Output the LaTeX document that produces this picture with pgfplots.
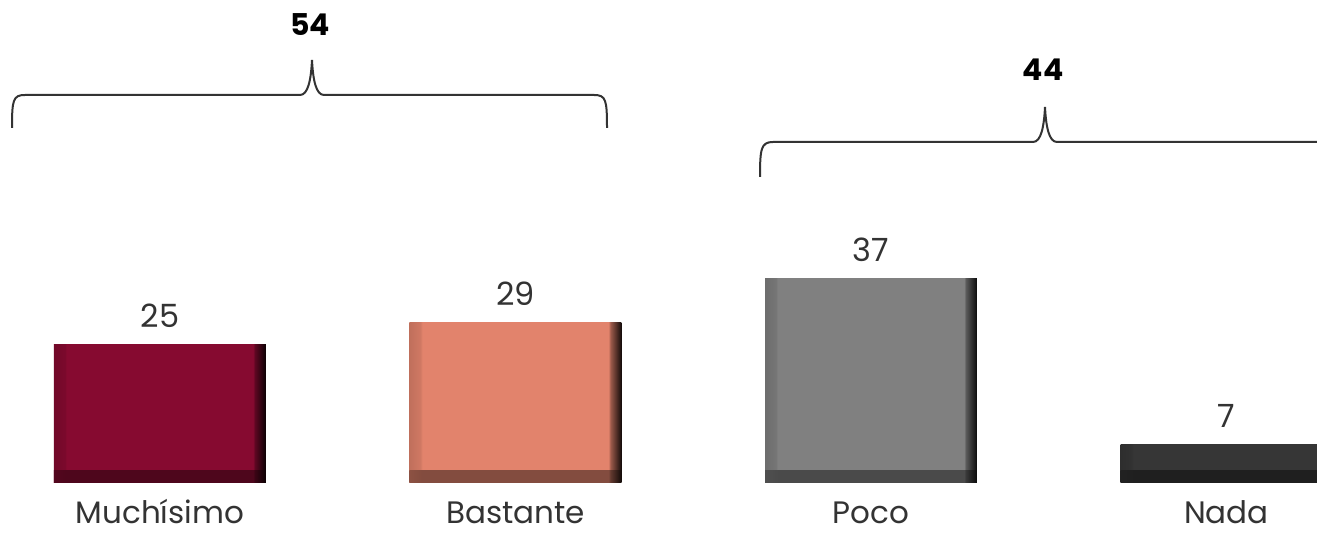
\documentclass[border=0pt]{standalone}
\usepackage{pgfplots}
\pgfplotsset{compat=1.18}
\usepackage{fontspec}
\setmainfont{Poppins}
\definecolor{txt}{HTML}{333333}
\definecolor{cMuch}{HTML}{860A30}
\definecolor{cBast}{HTML}{E2836C}
\definecolor{cPoco}{HTML}{808080}
\definecolor{cNada}{HTML}{363636}
% bevel look: darker left rim, dark right rim (face), dark bottom rim (band)
\newcommand\bevelshades[2]{%
  \pgfdeclarehorizontalshading{#1face}{100bp}{%
    color(0bp)=(#2!85!black); color(25bp)=(#2!85!black); color(27.6bp)=(#2!92!black);
    color(28bp)=(#2); color(72bp)=(#2); color(72.3bp)=(#2!72!black);
    color(75bp)=(#2!8!black); color(100bp)=(#2!8!black)}%
  \pgfdeclarehorizontalshading{#1band}{100bp}{%
    color(0bp)=(#2!62!black); color(25bp)=(#2!62!black); color(28bp)=(#2!58!black);
    color(72bp)=(#2!58!black); color(72.3bp)=(#2!45!black);
    color(75bp)=(#2!8!black); color(100bp)=(#2!8!black)}%
}
\bevelshades{much}{cMuch}
\bevelshades{bast}{cBast}
\bevelshades{poco}{cPoco}
\bevelshades{nada}{cNada}
\begin{document}
\begin{tikzpicture}
\begin{axis}[
  at={(0,25pt)}, anchor=south west,
  scale only axis, width=658.5pt, height=241.5pt,
  xmin=-0.45, xmax=3.2546, ymin=0, ymax=87.5,
  axis x line*=bottom, axis y line=none,
  x axis line style={draw=none},
  clip=false,
  /pgf/number format/assume math mode=true,
  ybar, bar width=0.5963, bar shift=0pt,
  xtick={0,1,2,3},
  xticklabels={Muchísimo,Bastante,Poco,Nada},
  ytick=\empty,
  major tick length=0pt,
  xtick style={draw=none},
  xticklabel style={anchor=base, yshift=-20.5pt, inner sep=0pt, text=txt, font=\fontsize{15.5}{17}\selectfont},
  every node near coord/.append style={anchor=base, yshift=8.5pt, inner sep=0pt, text=txt, font=\fontsize{16}{18}\selectfont},
  main/.style={draw=none, shading=#1face, nodes near coords},
  rim/.style={draw=none, shading=#1band},
]
\addplot[main=much] coordinates {(0,25)};
\addplot[main=bast] coordinates {(1,29)};
\addplot[main=poco] coordinates {(2,37)};
\addplot[main=nada] coordinates {(3,7)};
% bottom rim of each bevelled bar
\addplot[rim=much] coordinates {(0,2.2)};
\addplot[rim=bast] coordinates {(1,2.2)};
\addplot[rim=poco] coordinates {(2,2.2)};
\addplot[rim=nada] coordinates {(3,2.2)};
\end{axis}
% grouping braces with totals
\begin{scope}[x=0.5pt, y=-0.5pt, yshift=266.5pt, line width=1pt, draw=txt]
  \draw (12,128) .. controls (12,100) and (13,95) .. (25,95) -- (300,95)
        .. controls (308,95) and (311,80) .. (312,60)
        .. controls (313,80) and (316,95) .. (324,95) -- (594,95)
        .. controls (606,95) and (607,100) .. (607,128);
  \draw (760,177) .. controls (760,149) and (761,142) .. (773,142) -- (1033,142)
        .. controls (1041,142) and (1044,127) .. (1045,107)
        .. controls (1046,127) and (1049,142) .. (1057,142) -- (1317,142)
        .. controls (1329,142) and (1330,149) .. (1330,177);
  \node[text=black, font=\fontsize{15}{18}\selectfont\bfseries] at (310,25) {54};
  \node[text=black, font=\fontsize{15}{18}\selectfont\bfseries] at (1043,70) {44};
\end{scope}
\pgfresetboundingbox
\path (0,0) rectangle (658.5pt,266.5pt);
\end{tikzpicture}
\end{document}
